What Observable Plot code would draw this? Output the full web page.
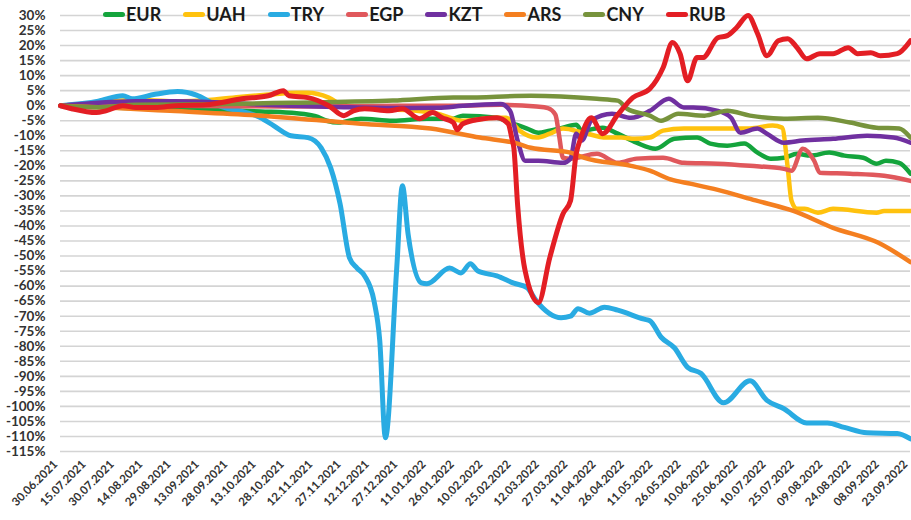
<!DOCTYPE html>
<html><head><meta charset="utf-8">
<script src="https://cdn.jsdelivr.net/npm/d3@7"></script>
<script src="https://cdn.jsdelivr.net/npm/@observablehq/plot@0.6"></script>
<style>
body{margin:0;background:#fff;}
#wrap{position:relative;width:911px;height:520px;font-family:Lato,"Open Sans",sans-serif;}
#legend{position:absolute;top:3px;left:103px;display:flex;gap:22px;align-items:center;font-weight:bold;font-size:18px;color:#1a1a1a;}
#legend .it{display:flex;align-items:center;}
#legend .sw{width:22px;height:5px;border-radius:3px;margin-right:1px;}
</style></head><body><div id="wrap"></div><script>
// day offsets from 30.06.2021, value in %
const currencies = ["EUR","UAH","TRY","EGP","KZT","ARS","CNY","RUB"];
const colors = ["#14a43c","#ffc20e","#29abe2","#e0585c","#7030a0","#f47f20","#77933c","#e31e24"];
const tickDays = d3.range(0, 451, 15);
const yTicks = d3.range(-115, 31, 5);

const EUR = [[0,0],[30,-0.7],[60,-1.2],[90,-1.5],[106,-1.9],[125,-2.5],[135,-3.5],[141,-5],[147,-5.6],[159,-4.3],[176,-5],[194,-4.3],[208,-4.3],[213,-3.3],[231,-4],[238,-5.6],[247,-7.6],[253,-9],[259,-8.3],[266,-7.3],[273,-6.3],[276,-8.3],[287,-7.3],[295,-9.3],[305,-12.3],[315,-14.3],[325,-11],[337,-10.6],[344,-12.6],[353,-13.3],[362,-12.6],[369,-15.6],[376,-17.6],[383,-17.3],[390,-16],[397,-16.6],[407,-15.6],[415,-16.6],[425,-17.3],[432,-19.3],[437,-18.3],[444,-19],[450,-22.6]];
const UAH = [[0,0],[20,1],[40,2],[60,1.5],[80,2],[96,3],[110,3.7],[125,4.3],[131,4.3],[142,2.7],[150,0],[165,-1],[185,-1.5],[200,-2.7],[206,-4],[213,-5],[231,-4],[236,-4],[243,-8.3],[252,-10.6],[259,-9.3],[266,-7.6],[277,-9],[289,-10.6],[297,-10.6],[304,-11],[312,-10.6],[319,-8.3],[330,-7.6],[348,-7.6],[365,-7.6],[377,-6.6],[382,-7.3],[385,-20.6],[387,-31.6],[390,-34.3],[394,-34.3],[401,-35.6],[409,-34.3],[432,-35.6],[436,-35],[450,-35]];
const TRY = [[0,0],[20,1.5],[33,3.3],[38,2.3],[50,3.8],[62,4.7],[72,3.5],[80,1],[89,-1],[95,-1.7],[106,-4],[113,-6.7],[122,-10],[131,-10.6],[138,-14],[143,-20.6],[148,-32.6],[153,-50.6],[157,-54],[161,-56.6],[166,-65],[169,-78],[172,-110.4],[178,-54],[181,-26.6],[184,-42.6],[191,-58.9],[194,-59.2],[206,-54],[212,-55.6],[217,-52.6],[221,-55],[231,-56.6],[240,-59],[247,-60.5],[252,-65],[265,-70.5],[270,-70],[274,-67.5],[280,-69],[288,-67],[295,-68],[309,-71],[312,-71.5],[318,-77],[325,-80.5],[332,-87],[339,-89],[351,-98.8],[365,-91.5],[374,-98],[383,-100.8],[395,-105.5],[406,-105.5],[415,-107],[427,-108.8],[443,-109],[450,-110.8]];
const EGP = [[0,0],[60,0],[120,-0.3],[180,0],[210,0],[233,0.3],[252,-0.3],[258,-0.8],[262,-3],[264,-10],[266,-17.3],[270,-17.6],[284,-16],[295,-19],[305,-17.6],[319,-17.3],[330,-19],[348,-19.3],[365,-20],[383,-21],[387,-21.6],[393,-14.3],[399,-18.3],[402,-22.3],[418,-22.6],[436,-23.3],[450,-25]];
const KZT = [[0,0],[20,1],[40,1.5],[60,1.5],[85,1.1],[105,0.4],[122,0],[150,-0.5],[180,-0.8],[200,-0.7],[213,0],[233,0.6],[238,-1.7],[242,-11.6],[246,-18.3],[253,-18.3],[266,-19],[270,-17.6],[273,-9.3],[276,-11.6],[281,-5],[292,-2.7],[302,-4],[312,-1.7],[322,2.3],[330,-0.6],[335,-0.6],[348,-1.7],[355,-4],[360,-9],[369,-7.6],[374,-9.3],[383,-12.3],[393,-11.6],[409,-11],[427,-10],[441,-10.6],[450,-12.3]];
const ARS = [[0,0],[30,-0.8],[58,-1.7],[106,-3.3],[159,-6],[196,-7.6],[222,-10.6],[242,-12.6],[249,-14],[270,-15.6],[277,-17.3],[302,-20],[312,-21.6],[323,-24.5],[334,-26],[348,-28],[368,-31.5],[388,-35],[409,-40.6],[433,-45.6],[450,-52]];
const CNY = [[0,0],[20,-0.5],[40,0.3],[80,0.5],[123,1],[176,1.7],[208,2.7],[213,2.7],[249,3.3],[284,2.3],[295,1.7],[300,-1],[312,-3.3],[318,-5],[327,-2.7],[341,-3.3],[353,-1.7],[365,-3.3],[383,-4.3],[401,-4],[418,-5.6],[432,-7.3],[444,-7.6],[450,-10.6]];
const RUB = [[0,0],[6,-1],[19,-2.3],[24,-1.7],[33,0],[40,-0.6],[50,-0.6],[61,0],[77,0.3],[96,2.3],[110,3.3],[118,5],[121,3.3],[131,2.7],[142,0],[150,-3.3],[155,-1.7],[161,-1],[174,-1.7],[181,-1],[190,-4.3],[197,-2.3],[202,-4],[208,-5.6],[210,-8],[213,-6],[222,-4.5],[231,-4],[237,-6],[239,-11],[240,-14],[242,-33],[246,-55],[253,-65.5],[259,-50.6],[266,-36],[270,-31.6],[273,-16],[275,-11.6],[281,-4],[287,-9.3],[295,-3],[303,2.7],[312,5.6],[319,12.6],[324,21],[328,17.3],[332,8.3],[337,16],[340,16],[348,22.6],[353,23.3],[358,26],[364,30],[369,24],[374,16.6],[380,21.6],[385,22.3],[390,19.3],[395,15.6],[402,17.3],[409,17.3],[417,19.3],[422,17.3],[429,17.6],[434,16.6],[443,17.3],[450,21.6]];

const seriesData = [EUR, UAH, TRY, EGP, KZT, ARS, CNY, RUB];
const day = d => new Date(Date.UTC(2021, 5, 30 + d));
const fmt = d3.utcFormat("%d.%m.%Y");

const lines = seriesData.map((s, i) => Plot.line(s.map(([d, v]) => ({date: day(d), value: v})), {
  x: "date", y: "value", stroke: colors[i],
  strokeWidth: (currencies[i] === "RUB" || currencies[i] === "TRY") ? 5 : 4.5,
  curve: "monotone-x", strokeLinejoin: "round", strokeLinecap: "round"
}));

const chart = Plot.plot({
  width: 911, height: 520,
  marginLeft: 60, marginRight: 1, marginTop: 15, marginBottom: 69,
  style: {fontFamily: "Lato,'Open Sans',sans-serif", background: "#fff"},
  x: {type: "utc", domain: [day(0), day(450)]},
  y: {domain: [-115, 30]},
  marks: [
    Plot.gridY(yTicks, {stroke: "#d4d4d4", strokeOpacity: 1, strokeWidth: 1.6}),
    Plot.axisY(yTicks, {tickSize: 0, tickPadding: 15, tickFormat: d => d + "%", fontSize: 13.5, fontWeight: "bold", fill: "#333", label: null}),
    Plot.axisX(tickDays.map(day), {tickSize: 0, tickPadding: 11, tickRotate: -45, dx: -5, tickFormat: fmt, fontSize: 11.5, fontWeight: "bold", fill: "#333", label: null}),
    ...lines
  ]
});

const wrap = document.getElementById("wrap");
wrap.appendChild(chart);
const legend = document.createElement("div");
legend.id = "legend";
currencies.forEach((c, i) => {
  const it = document.createElement("div");
  it.className = "it";
  const sw = document.createElement("span");
  sw.className = "sw"; sw.style.background = colors[i];
  const tx = document.createElement("span");
  tx.textContent = c;
  it.appendChild(sw); it.appendChild(tx);
  legend.appendChild(it);
});
wrap.appendChild(legend);
</script></body></html>
